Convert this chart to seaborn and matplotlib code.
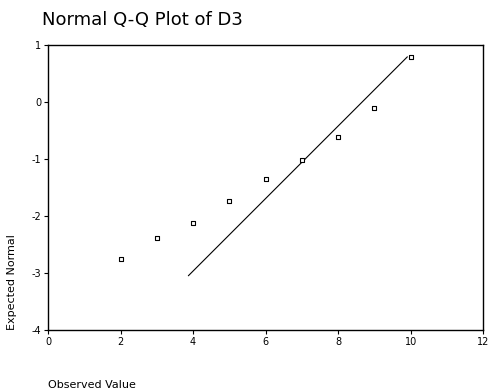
import matplotlib
matplotlib.use("Agg")
import matplotlib.pyplot as plt
import seaborn as sns
import pandas as pd

# observed values and expected normal quantiles
observed = [2, 3, 4, 5, 6, 7, 8, 9, 10]
expected = [-2.76, -2.38, -2.12, -1.73, -1.35, -1.02, -0.62, -0.11, 0.79]

# reference line
line_x = [3.87, 9.91]
line_y = [-3.05, 0.79]

pts = pd.DataFrame({"obs": observed, "exp": expected})
ref = pd.DataFrame({"x": line_x, "y": line_y})

sns.set_style("white")
plt.rcParams["font.family"] = ["DejaVu Sans"]
plt.rcParams["axes.unicode_minus"] = False
plt.rcParams["text.color"] = "black"
plt.rcParams["axes.labelcolor"] = "black"
plt.rcParams["xtick.color"] = "black"
plt.rcParams["ytick.color"] = "black"

fig = plt.figure(figsize=(4.9, 3.9), dpi=100)
ax = fig.add_axes([0.098, 0.154, 0.888, 0.731])

sns.lineplot(data=ref, x="x", y="y", color="black", linewidth=0.8, ax=ax)
sns.scatterplot(data=pts, x="obs", y="exp", marker="s", s=12,
                facecolor="white", edgecolor="black", linewidth=0.8, ax=ax, zorder=3)

ax.set_xlim(0, 12)
ax.set_ylim(-4, 1)
ax.set_xticks([0, 2, 4, 6, 8, 10, 12])
ax.set_yticks([-4, -3, -2, -1, 0, 1])
ax.tick_params(axis="both", labelsize=7, length=3, width=0.8, direction="out",
               bottom=True, left=True, pad=2)
for s in ax.spines.values():
    s.set_color("black")
    s.set_linewidth(1.0)

ax.set_xlabel("Observed Value", fontsize=8, loc="left", labelpad=24)
ax.set_ylabel("Expected Normal", fontsize=8, loc="bottom", labelpad=10)
fig.text(0.086, 0.925, "Normal Q-Q Plot of D3", fontsize=13, ha="left", va="bottom")

fig.savefig("out.png", dpi=100)
